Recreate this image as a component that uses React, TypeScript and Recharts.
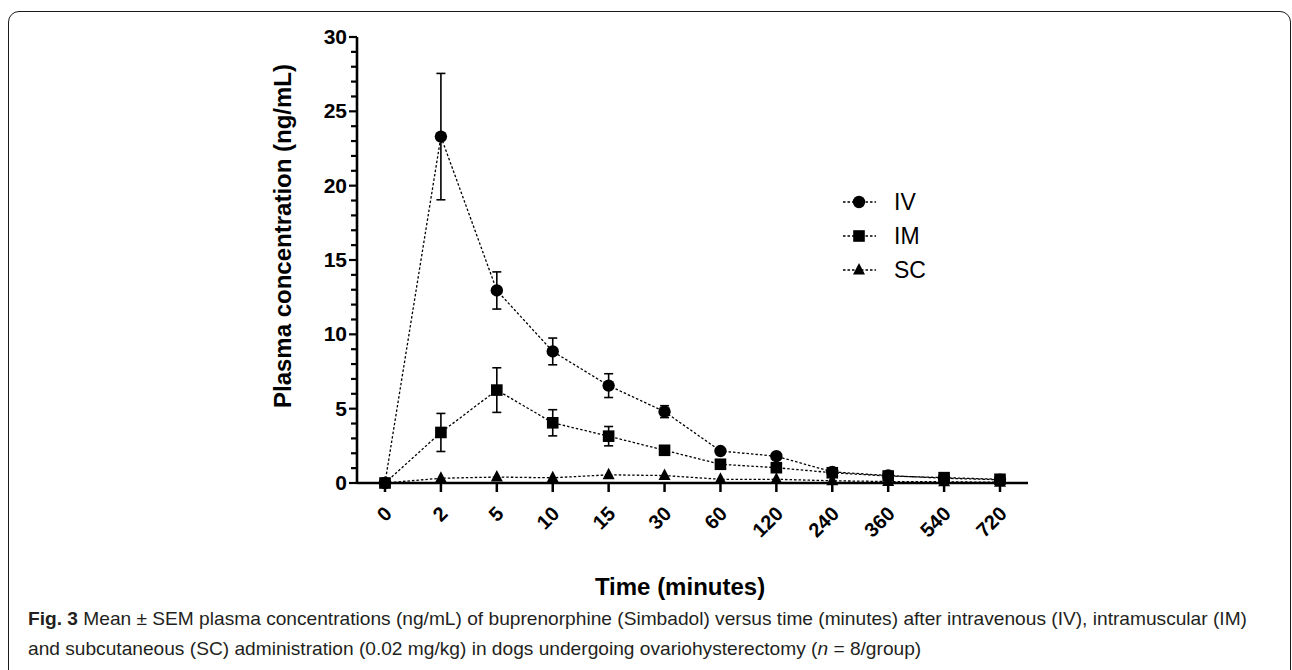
import React from 'react';
import { LineChart, Line, XAxis, YAxis, ErrorBar, Legend, Label } from 'recharts';

// ---- data ----
const categories = ['0', '2', '5', '10', '15', '30', '60', '120', '240', '360', '540', '720'];
const ivMean = [0, 23.3, 12.95, 8.85, 6.55, 4.8, 2.15, 1.8, 0.75, 0.5, 0.32, 0.22];
const ivSem = [0, 4.25, 1.25, 0.9, 0.8, 0.4, 0.2, 0.15, 0.1, 0.05, 0.05, 0.05];
const imMean = [0, 3.4, 6.25, 4.05, 3.15, 2.2, 1.26, 1.03, 0.69, 0.47, 0.36, 0.25];
const imSem = [0, 1.28, 1.5, 0.88, 0.65, 0.2, 0.2, 0.2, 0.1, 0.05, 0.05, 0.05];
const scMean = [0, 0.32, 0.4, 0.35, 0.55, 0.5, 0.25, 0.25, 0.15, 0.1, 0.08, 0.05];
const yTicks = [0, 1, 2, 3, 4, 5, 6, 7, 8, 9, 10, 11, 12, 13, 14, 15, 16, 17, 18, 19, 20, 21, 22, 23, 24, 25, 26, 27, 28, 29, 30];
const yLabelTicks = [0, 5, 10, 15, 20, 25, 30];
const seriesNames = ['IV', 'IM', 'SC'];

const data = categories.map((t, i) => ({
  time: t,
  iv: ivMean[i],
  ivErr: ivSem[i],
  im: imMean[i],
  imErr: imSem[i],
  sc: scMean[i],
}));

const FONT = '"Liberation Sans", Arial, Helvetica, sans-serif';

const CircleDot = (props: any) => {
  const { cx, cy } = props;
  if (cx == null || cy == null) return null;
  return <circle key={`c-${cx}`} cx={cx} cy={cy} r={6.2} fill="#000" />;
};
const SquareDot = (props: any) => {
  const { cx, cy } = props;
  if (cx == null || cy == null) return null;
  return <rect key={`s-${cx}`} x={cx - 5.8} y={cy - 5.8} width={11.6} height={11.6} fill="#000" />;
};
const TriangleDot = (props: any) => {
  const { cx, cy } = props;
  if (cx == null || cy == null) return null;
  return (
    <polygon
      key={`t-${cx}`}
      points={`${cx},${cy - 7} ${cx + 6},${cy + 4.5} ${cx - 6},${cy + 4.5}`}
      fill="#000"
    />
  );
};

const YTick = (props: any) => {
  const { x, y, payload } = props;
  const v = payload.value;
  const major = yLabelTicks.includes(v);
  return (
    <g>
      <line x1={x} y1={y} x2={x - (major ? 8 : 6)} y2={y} stroke="#000" strokeWidth={2.2} />
      {major && (
        <text
          x={x - 10}
          y={y}
          dy={7}
          textAnchor="end"
          fontSize={21}
          fontWeight="bold"
          fontFamily={FONT}
          fill="#000"
        >
          {v}
        </text>
      )}
    </g>
  );
};

const XTick = (props: any) => {
  const { x, y, payload } = props;
  return (
    <g>
      <line x1={x} y1={y} x2={x} y2={y + 9} stroke="#000" strokeWidth={2.5} />
      <text
        transform={`translate(${x + 8},${y + 32}) rotate(-45)`}
        textAnchor="end"
        fontSize={20}
        fontWeight="bold"
        fontFamily={FONT}
        fill="#000"
      >
        {payload.value}
      </text>
    </g>
  );
};

const LegendContent = () => {
  const rows = [0, 1, 2];
  return (
    <svg width={160} height={110} style={{ overflow: 'visible' }}>
      {rows.map((i) => {
        const cy = 20 + i * 34;
        const marker =
          i === 0 ? (
            <circle cx={27} cy={cy} r={6.2} fill="#000" />
          ) : i === 1 ? (
            <rect x={21.2} y={cy - 5.8} width={11.6} height={11.6} fill="#000" />
          ) : (
            <polygon points={`27,${cy - 7} 33,${cy + 4.5} 21,${cy + 4.5}`} fill="#000" />
          );
        return (
          <g key={i}>
            <line x1={11} y1={cy} x2={44} y2={cy} stroke="#000" strokeWidth={1.3} strokeDasharray="2.5 2" />
            {marker}
            <text x={62} y={cy + 8} fontSize={23} fontFamily={FONT} fill="#000">
              {seriesNames[i]}
            </text>
          </g>
        );
      })}
    </svg>
  );
};

export default function App() {
  return (
    <div
      style={{
        position: 'fixed',
        left: 0,
        top: 0,
        width: 1292,
        height: 670,
        background: '#fff',
        overflow: 'hidden',
      }}
    >
      <div
        style={{
          position: 'absolute',
          left: 8,
          top: 11,
          width: 1283,
          height: 740,
          border: '1.8px solid #1a1a1a',
          borderRadius: 11,
          boxSizing: 'border-box',
        }}
      />
      <div style={{ position: 'absolute', left: 0, top: 0 }}>
        <LineChart
          width={1292}
          height={670}
          data={data}
          margin={{ top: 37, right: 264, bottom: 127, left: 297 }}
        >
          <XAxis
            dataKey="time"
            type="category"
            padding={{ left: 28, right: 28 }}
            axisLine={{ stroke: '#000', strokeWidth: 2.6 }}
            tickLine={false}
            tickSize={0}
            tickMargin={0}
            interval={0}
            tick={<XTick />}
            height={60}
          >
            <Label
              content={() => (
                <text
                  x={680}
                  y={595}
                  textAnchor="middle"
                  fontSize={24}
                  fontWeight="bold"
                  fontFamily={FONT}
                  fill="#000"
                >
                  Time (minutes)
                </text>
              )}
            />
          </XAxis>
          <YAxis
            type="number"
            domain={[0, 30]}
            ticks={yTicks}
            interval={0}
            width={60}
            axisLine={{ stroke: '#000', strokeWidth: 2.6 }}
            tickLine={false}
            tickSize={0}
            tickMargin={0}
            tick={<YTick />}
          >
            <Label
              content={() => (
                <text
                  transform="translate(291,236) rotate(-90)"
                  textAnchor="middle"
                  fontSize={24}
                  fontWeight="bold"
                  fontFamily={FONT}
                  fill="#000"
                >
                  Plasma concentration (ng/mL)
                </text>
              )}
            />
          </YAxis>
          <Legend
            layout="vertical"
            align="center"
            verticalAlign="middle"
            content={<LegendContent />}
            wrapperStyle={{ position: 'absolute', left: 832, top: 182, width: 160, height: 110 }}
          />
          <Line
            type="linear"
            dataKey="iv"
            name="IV"
            stroke="#000"
            strokeWidth={1.3}
            strokeDasharray="2.5 2"
            dot={<CircleDot />}
            activeDot={false}
            isAnimationActive={false}
          >
            <ErrorBar dataKey="ivErr" width={4.5} stroke="#000" strokeWidth={1.6} direction="y" />
          </Line>
          <Line
            type="linear"
            dataKey="sc"
            name="SC"
            stroke="#000"
            strokeWidth={1.3}
            strokeDasharray="2.5 2"
            dot={<TriangleDot />}
            activeDot={false}
            isAnimationActive={false}
          />
          <Line
            type="linear"
            dataKey="im"
            name="IM"
            stroke="#000"
            strokeWidth={1.3}
            strokeDasharray="2.5 2"
            dot={<SquareDot />}
            activeDot={false}
            isAnimationActive={false}
          >
            <ErrorBar dataKey="imErr" width={4.5} stroke="#000" strokeWidth={1.6} direction="y" />
          </Line>
        </LineChart>
      </div>
      <svg
        width={1292}
        height={670}
        style={{ position: 'absolute', left: 0, top: 0, pointerEvents: 'none' }}
      >
        <text x={28} y={625} fontSize={19.15} fontFamily={FONT} fill="#231f20">
          <tspan fontWeight="bold">Fig. 3</tspan> Mean ± SEM plasma concentrations (ng/mL) of buprenorphine
          (Simbadol) versus time (minutes) after intravenous (IV), intramuscular (IM)
        </text>
        <text x={28} y={655} fontSize={19.15} fontFamily={FONT} fill="#231f20">
          and subcutaneous (SC) administration (0.02 mg/kg) in dogs undergoing ovariohysterectomy (
          <tspan fontStyle="italic">n</tspan> = 8/group)
        </text>
      </svg>
    </div>
  );
}
